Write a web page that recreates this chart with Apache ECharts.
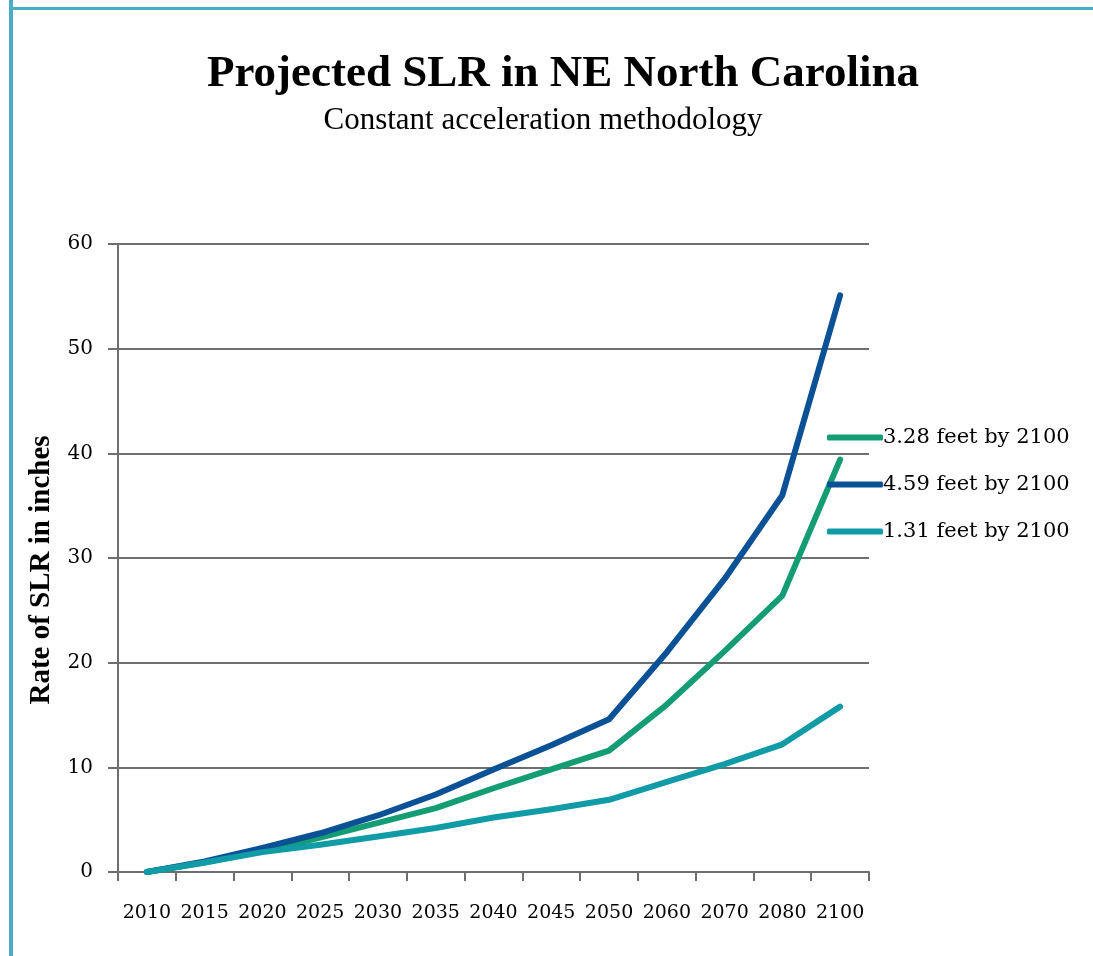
<!DOCTYPE html>
<html>
<head>
<meta charset="utf-8">
<script src="https://cdn.jsdelivr.net/npm/echarts@6/dist/echarts.min.js"></script>
<style>
  html, body { margin: 0; padding: 0; background: #fff; }
  #chart { width: 1093px; height: 956px; }
</style>
</head>
<body>
<div id="chart"></div>
<script>
// values (inches)
const years = ["2010", "2015", "2020", "2025", "2030", "2035", "2040", "2045", "2050", "2060", "2070", "2080", "2100"]
const mid328 = [0, 0.9, 2.0, 3.3, 4.7, 6.1, 8.0, 9.8, 11.6, 16.0, 21.1, 26.4, 39.4]
const high459 = [0, 1.0, 2.3, 3.7, 5.4, 7.4, 9.8, 12.1, 14.6, 21.0, 28.0, 36.0, 55.1]
const low131 = [0, 0.9, 1.9, 2.6, 3.4, 4.2, 5.2, 6.0, 6.9, 8.6, 10.3, 12.2, 15.8]
const yTicks = [0, 10, 20, 30, 40, 50, 60]

const seriesDefs = [
  { name: "3.28 feet by 2100", color: "#149d74", values: mid328 },
  { name: "4.59 feet by 2100", color: "#0b5196", values: high459 },
  { name: "1.31 feet by 2100", color: "#109ba6", values: low131 },
]

const font = "'DejaVu Serif', 'Liberation Serif', serif"
const axisGray = "#6e6e6e"

const chart = echarts.init(document.getElementById("chart"), null, { renderer: "canvas" })

chart.setOption({
  backgroundColor: "#fff",
  animation: false,
  title: [
    {
      text: "Projected SLR in NE North Carolina",
      left: 558,
      textAlign: "center",
      top: 47,
      textStyle: { fontFamily: "'Liberation Serif', serif", fontWeight: "bold", fontSize: 45, color: "#000" },
    },
    {
      text: "Constant acceleration methodology",
      left: 538,
      textAlign: "center",
      top: 100,
      textStyle: { fontFamily: "'Liberation Serif', serif", fontWeight: "normal", fontSize: 31, color: "#000" },
    },
  ],
  legend: {
    orient: "vertical",
    left: 822,
    top: 422,
    icon: "roundRect",
    itemWidth: 56,
    itemHeight: 6,
    itemGap: 26,
    textStyle: { fontFamily: font, fontSize: 21, color: "#000", padding: [0, 0, 0, -5] },
    data: seriesDefs.map((s) => s.name),
  },
  grid: { left: 118, right: 224, top: 244, bottom: 84 },
  xAxis: {
    type: "category",
    data: years,
    boundaryGap: true,
    axisLine: { lineStyle: { color: axisGray, width: 2 } },
    axisTick: { show: true, interval: 0, length: 9, lineStyle: { color: axisGray, width: 2 } },
    axisLabel: { interval: 0, margin: 32, fontFamily: font, fontSize: 19, color: "#000" },
  },
  yAxis: {
    type: "value",
    min: yTicks[0],
    max: yTicks[yTicks.length - 1],
    interval: 10,
    name: "Rate of SLR in inches",
    nameLocation: "middle",
    nameGap: 62,
    nameTextStyle: { fontFamily: "'Liberation Serif', serif", fontWeight: "bold", fontSize: 29, color: "#000", padding: [0, 24, 0, 0] },
    axisLine: { show: true, lineStyle: { color: axisGray, width: 2 } },
    axisTick: { show: true, length: 10, lineStyle: { color: axisGray, width: 2 } },
    splitLine: { lineStyle: { color: axisGray, width: 2 } },
    axisLabel: { margin: 25, fontFamily: font, fontSize: 20, color: "#000" },
  },
  graphic: [
    { type: "rect", shape: { x: 9, y: 0, width: 4, height: 956 }, style: { fill: "#4bacc6" } },
    { type: "rect", shape: { x: 9, y: 7, width: 1084, height: 3 }, style: { fill: "#4bacc6" } },
  ],
  series: seriesDefs.map((s) => ({
    name: s.name,
    type: "line",
    data: s.values,
    symbol: "none",
    smooth: false,
    color: s.color,
    lineStyle: { color: s.color, width: 6, cap: "round", join: "round" },
  })),
})
</script>
</body>
</html>
